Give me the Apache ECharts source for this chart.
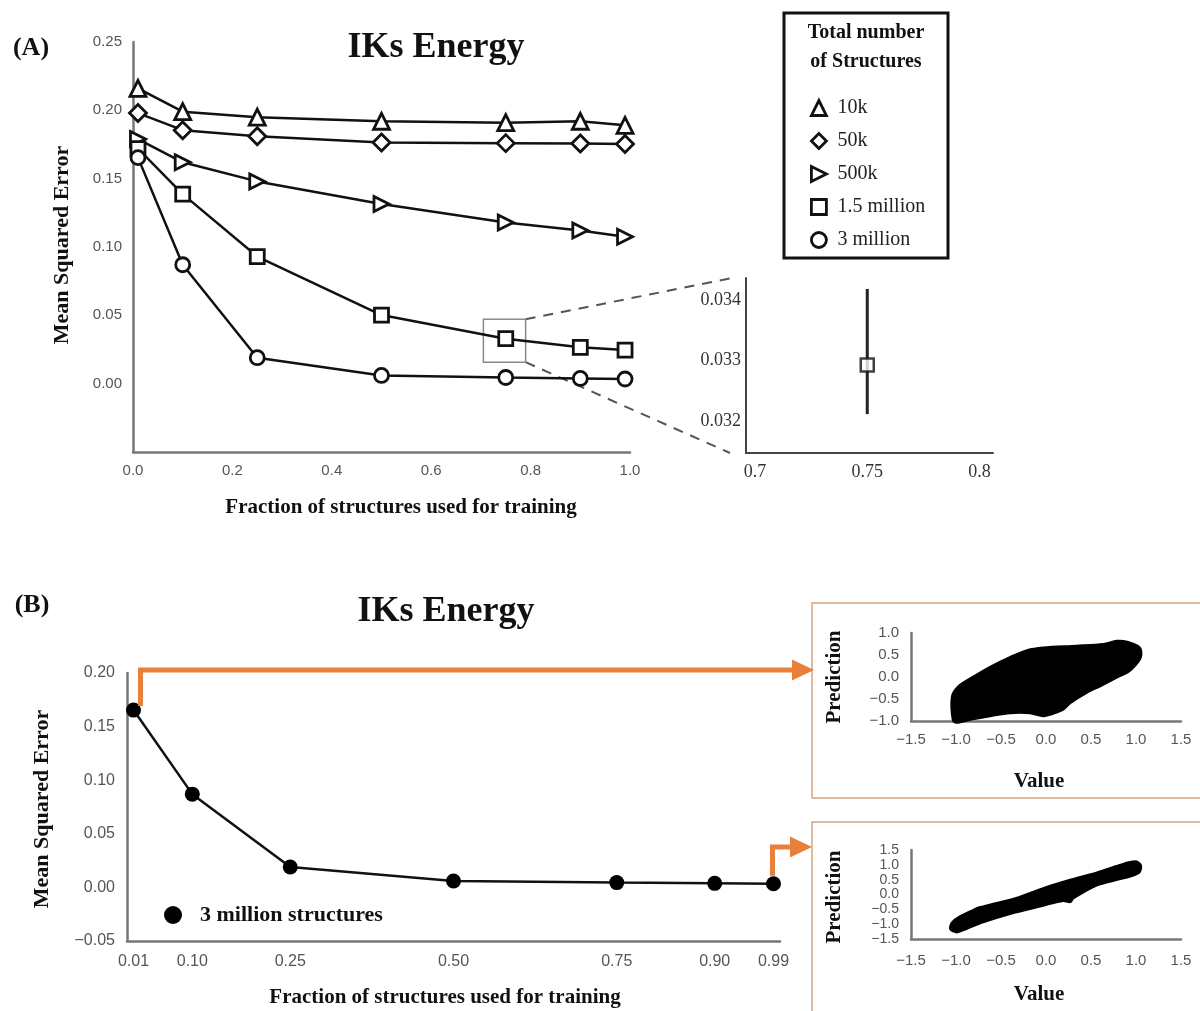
<!DOCTYPE html>
<html>
<head>
<meta charset="utf-8">
<title>IKs Energy</title>
<script src="https://cdn.jsdelivr.net/npm/echarts@6/dist/echarts.min.js"></script>
<style>
html, body { margin: 0; padding: 0; background: #fff; }
#main { width: 1200px; height: 1011px; }
</style>
</head>
<body>
<div id="main"></div>
<script>
// fraction of structures used for training
const fractions = [0.01, 0.1, 0.25, 0.5, 0.75, 0.9, 0.99]
// mean squared error, one list per total number of structures
const mse10k = [0.216, 0.199, 0.195, 0.192, 0.191, 0.192, 0.189]
const mse50k = [0.198, 0.1855, 0.181, 0.1765, 0.176, 0.1757, 0.1754]
const mse500k = [0.179, 0.162, 0.148, 0.1315, 0.118, 0.112, 0.1075]
const mse1500k = [0.172, 0.1387, 0.093, 0.0502, 0.0329, 0.0266, 0.0246]
const mse3m = [0.1654, 0.087, 0.019, 0.006, 0.0045, 0.0038, 0.0034]
const seriesNames = ['10k', '50k', '500k', '1.5 million', '3 million']

// zoom on the 1.5 million point at 0.75 (mean and error bar)
const zoomX = [0.75]
const zoomMean = [0.03293]
const zoomLow = [0.03212]
const zoomHigh = [0.03418]
const zoomTicksX = [0.7, 0.75, 0.8]
const zoomTicksY = [0.032, 0.033, 0.034]

// tick labels of panel B
const fractionTicks = [0.01, 0.1, 0.25, 0.5, 0.75, 0.9, 0.99]

// outline of the prediction / value clouds (value, prediction)
const cloudFew = [
	[-1.03, -0.98], [-1.04, -0.45], [-0.97, -0.22], [-0.82, -0.02], [-0.62, 0.22], [-0.4, 0.44],
	[-0.21, 0.6], [-0.03, 0.66], [0.34, 0.7], [0.64, 0.74], [0.79, 0.81], [0.9, 0.79],
	[1.04, 0.66], [1.05, 0.46], [0.99, 0.27], [0.91, 0.12], [0.79, 0.0], [0.6, -0.2],
	[0.45, -0.35], [0.27, -0.58], [0.19, -0.73], [0.04, -0.85], [-0.03, -0.88], [-0.18, -0.81],
	[-0.4, -0.81], [-0.62, -0.88], [-0.84, -0.96], [-0.99, -1.03]
]
const cloudMany = [
	[-1.06, -1.16], [-1.04, -0.95], [-0.96, -0.76], [-0.81, -0.54], [-0.73, -0.44], [-0.55, -0.3],
	[-0.33, -0.13], [-0.03, 0.2], [0.27, 0.48], [0.56, 0.72], [0.82, 0.98], [0.99, 1.1],
	[1.05, 0.98], [1.03, 0.74], [0.86, 0.56], [0.56, 0.32], [0.3, -0.12], [0.27, -0.24],
	[0.19, -0.2], [-0.03, -0.36], [-0.4, -0.64], [-0.7, -0.92], [-0.88, -1.14], [-0.99, -1.26]
]
// region of panel A that the zoom shows
const zoomBox = [[0.705, 0.0157], [0.79, 0.0471]]

const serif = 'Liberation Serif'
const sans = 'Liberation Sans'
const orange = '#e8803a'

const pairs = values => fractions.map((x, i) => [x, values[i]])
const minus = v => (v < 0 ? '\u2212' : '') + Math.abs(v)

function lineA(name, values, symbol, size) {
	return {
		name: name,
		type: 'line',
		xAxisIndex: 0,
		yAxisIndex: 0,
		data: pairs(values),
		symbol: symbol,
		symbolSize: size,
		lineStyle: { color: '#111', width: 2.5 },
		itemStyle: { color: '#fff', borderColor: '#111', borderWidth: 2.8 },
		emphasis: { disabled: true },
		z: 3
	}
}

function valueAxis(grid, opts) {
	return Object.assign({
		gridIndex: grid,
		type: 'value',
		axisLine: { show: true, onZero: false, lineStyle: { color: '#777', width: 2.5 } },
		axisTick: { show: false },
		splitLine: { show: false }
	}, opts)
}

function cloudSeries(idx, outline) {
	return {
		type: 'custom',
		xAxisIndex: idx,
		yAxisIndex: idx,
		data: outline,
		clip: false,
		renderItem: function(params, api) {
			if (params.dataIndex !== 0) return null
			return {
				type: 'polygon',
				shape: { points: outline.map(p => api.coord(p)), smooth: 0.3 },
				style: { fill: '#000', stroke: '#000', lineWidth: 3, lineJoin: 'round' }
			}
		}
	}
}

const rightTri = 'path://M0,0 L10,5 L0,10 Z'
const symbols = ['triangle', 'diamond', rightTri, 'rect', 'circle']
const sizes = [16, 17, 15, 14, 14]

const scatterLabel = size => ({
	color: '#555', fontSize: size, fontFamily: sans,
	formatter: v => minus(Number(v.toFixed(1))).replace(/^(\u2212?\d)$/, '$1.0')
})

const chart = echarts.init(document.getElementById('main'))
const option = {
	animation: false,
	backgroundColor: '#fff',
	grid: [
		{ left: 133, top: 42, width: 497, height: 410 },
		{ left: 746, top: 278, width: 247, height: 175 },
		{ left: 127, top: 673, width: 653, height: 268 },
		{ left: 911, top: 633, width: 270, height: 88 },
		{ left: 911, top: 850, width: 270, height: 89 }
	],
	xAxis: [
		valueAxis(0, {
			min: 0, max: 1, interval: 0.2,
			axisLabel: { formatter: v => v.toFixed(1), color: '#555', fontSize: 15, fontFamily: sans, margin: 11 }
		}),
		valueAxis(1, {
			min: 0.696, max: 0.806,
			axisLine: { show: true, onZero: false, lineStyle: { color: '#444', width: 2 } },
			axisLabel: { customValues: zoomTicksX, color: '#333', fontSize: 18, fontFamily: serif, margin: 10 }
		}),
		valueAxis(2, {
			min: 0, max: 1,
			axisLabel: { customValues: fractionTicks, formatter: v => v.toFixed(2), color: '#555', fontSize: 16, fontFamily: sans, margin: 13 }
		}),
		valueAxis(3, { min: -1.5, max: 1.5, interval: 0.5, axisLabel: Object.assign(scatterLabel(15), { margin: 11 }) }),
		valueAxis(4, { min: -1.5, max: 1.5, interval: 0.5, axisLabel: Object.assign(scatterLabel(15), { margin: 14 }) })
	],
	yAxis: [
		valueAxis(0, {
			min: -0.05, max: 0.25, interval: 0.05,
			axisLabel: { formatter: v => (v < -0.001 ? '' : v.toFixed(2)), color: '#555', fontSize: 15, fontFamily: sans, margin: 11 }
		}),
		valueAxis(1, {
			min: 0.03148, max: 0.03436,
			axisLine: { show: true, onZero: false, lineStyle: { color: '#444', width: 2 } },
			axisLabel: { customValues: zoomTicksY, formatter: v => v.toFixed(3), color: '#333', fontSize: 18, fontFamily: serif, margin: 5 }
		}),
		valueAxis(2, {
			min: -0.05, max: 0.2, interval: 0.05,
			axisLabel: { formatter: v => (v < 0 ? '\u2212' : '') + Math.abs(v).toFixed(2), color: '#555', fontSize: 16, fontFamily: sans, margin: 12 }
		}),
		valueAxis(3, { min: -1, max: 1, interval: 0.5, axisLabel: Object.assign(scatterLabel(15), { margin: 12 }) }),
		valueAxis(4, { min: -1.5, max: 1.5, interval: 0.5, axisLabel: Object.assign(scatterLabel(14), { margin: 12, lineHeight: 12 }) })
	],
	legend: [
		{
			data: seriesNames.map((n, i) => ({ name: n, icon: symbols[i] })),
			orient: 'vertical',
			left: 805,
			top: 93,
			itemWidth: 15,
			itemHeight: 15,
			itemGap: 13,
			selectedMode: false,
			itemStyle: { color: '#fff', borderColor: '#111', borderWidth: 2.8 },
			textStyle: { fontFamily: serif, fontSize: 20, color: '#222', padding: [0, 0, 0, 6] }
		},
		{
			data: [{ name: '3 million structures', icon: 'circle' }],
			left: 159,
			top: 899,
			itemWidth: 18,
			itemHeight: 18,
			selectedMode: false,
			itemStyle: { color: '#000' },
			textStyle: { fontFamily: serif, fontSize: 22, fontWeight: 'bold', color: '#111', padding: [0, 0, 0, 13] }
		}
	],
	series: [
		lineA(seriesNames[0], mse10k, symbols[0], sizes[0]),
		lineA(seriesNames[1], mse50k, symbols[1], sizes[1]),
		lineA(seriesNames[2], mse500k, symbols[2], sizes[2]),
		Object.assign(lineA(seriesNames[3], mse1500k, symbols[3], sizes[3]), {
			markArea: {
				silent: true,
				itemStyle: { color: 'rgba(0,0,0,0)', borderColor: '#888', borderWidth: 1.5 },
				data: [[{ coord: zoomBox[0] }, { coord: zoomBox[1] }]]
			}
		}),
		lineA(seriesNames[4], mse3m, symbols[4], sizes[4]),
		{
			type: 'custom',
			xAxisIndex: 1,
			yAxisIndex: 1,
			data: zoomX.map((x, i) => [x, zoomLow[i], zoomHigh[i]]),
			encode: { x: 0, y: [1, 2] },
			renderItem: function(params, api) {
				const lo = api.coord([api.value(0), api.value(1)])
				const hi = api.coord([api.value(0), api.value(2)])
				return {
					type: 'line',
					shape: { x1: lo[0], y1: lo[1], x2: hi[0], y2: hi[1] },
					style: { stroke: '#222', lineWidth: 3 }
				}
			}
		},
		{
			type: 'scatter',
			xAxisIndex: 1,
			yAxisIndex: 1,
			data: zoomX.map((x, i) => [x, zoomMean[i]]),
			symbol: 'rect',
			symbolSize: 13,
			itemStyle: { color: '#fff', borderColor: '#111', borderWidth: 2.5 },
			z: 4
		},
		{
			name: '3 million structures',
			type: 'line',
			xAxisIndex: 2,
			yAxisIndex: 2,
			data: pairs(mse3m),
			symbol: 'circle',
			symbolSize: 15,
			lineStyle: { color: '#111', width: 2.5 },
			itemStyle: { color: '#000' },
			emphasis: { disabled: true },
			z: 3
		},
		cloudSeries(3, cloudFew),
		cloudSeries(4, cloudMany)
	]
}
chart.setOption(option)

// texts, boxes and connectors
const text = (str, x, y, size, rot) => ({
	type: 'text',
	x: x,
	y: y,
	rotation: rot ? Math.PI / 2 : 0,
	style: { text: str, font: 'bold ' + size + 'px "' + serif + '"', fill: '#111', align: 'center', verticalAlign: 'middle' },
	z: 10
})
const boxTR = chart.convertToPixel({ gridIndex: 0 }, [zoomBox[1][0], zoomBox[1][1]])
const boxBR = chart.convertToPixel({ gridIndex: 0 }, [zoomBox[1][0], zoomBox[0][1]])
const insetTL = chart.convertToPixel({ gridIndex: 1 }, [0.696, 0.03436])
const insetBL = chart.convertToPixel({ gridIndex: 1 }, [0.696, 0.03148])
const firstB = chart.convertToPixel({ gridIndex: 2 }, [fractions[0], mse3m[0]])
const lastB = chart.convertToPixel({ gridIndex: 2 }, [fractions[6], mse3m[6]])
const dash = (a, b) => ({
	type: 'line',
	shape: { x1: a[0], y1: a[1], x2: b[0], y2: b[1] },
	style: { stroke: '#555', lineWidth: 2, lineDash: [10, 8] }
})
const arrow = pts => ({
	type: 'polyline',
	shape: { points: pts },
	style: { stroke: orange, lineWidth: 5, fill: null },
	z: 5
})
const head = (x, y) => ({
	type: 'polygon',
	shape: { points: [[x, y - 10.5], [x + 22, y], [x, y + 10.5]] },
	style: { fill: orange },
	z: 5
})

chart.setOption({
	graphic: [
		text('(A)', 31, 48, 26),
		text('IKs Energy', 436, 48, 36),
		text('Mean Squared Error', 62, 245, 22, true),
		text('Fraction of structures used for training', 401, 508, 21),
		{ type: 'rect', shape: { x: 784, y: 13, width: 164, height: 245 }, style: { fill: null, stroke: '#111', lineWidth: 3 } },
		text('Total number', 866, 33, 20),
		text('of Structures', 866, 62, 20),
		dash(boxTR, [insetTL[0] - 14, insetTL[1]]),
		dash(boxBR, [insetBL[0] - 16, insetBL[1]]),
		text('(B)', 32, 605, 26),
		text('IKs Energy', 446, 612, 36),
		text('Mean Squared Error', 42, 809, 22, true),
		text('Fraction of structures used for training', 445, 998, 21),
		{ type: 'rect', shape: { x: 812, y: 603, width: 400, height: 195 }, style: { fill: null, stroke: '#d8a27c', lineWidth: 1.5 } },
		{ type: 'rect', shape: { x: 812, y: 822, width: 400, height: 200 }, style: { fill: null, stroke: '#d8a27c', lineWidth: 1.5 } },
		text('Prediction', 835, 677, 21, true),
		text('Value', 1039, 782, 21),
		text('Prediction', 835, 897, 21, true),
		text('Value', 1039, 995, 21),
		arrow([[firstB[0] + 7, firstB[1] - 4], [firstB[0] + 7, 670], [793, 670]]),
		head(792, 670),
		arrow([[lastB[0] - 1, lastB[1] - 8], [lastB[0] - 1, 847], [791, 847]]),
		head(790, 847)
	]
})
</script>
</body>
</html>
